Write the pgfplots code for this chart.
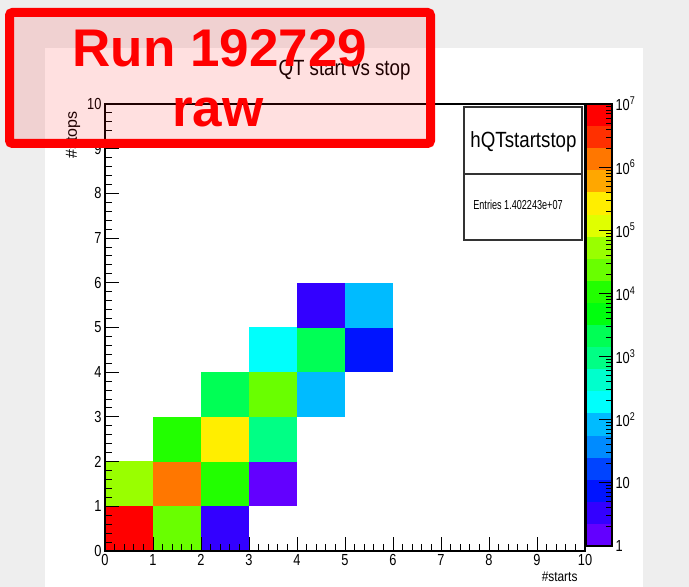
\documentclass[border=0pt]{standalone}
\usepackage{fontspec}
\setmainfont{Liberation Sans}
\newfontfamily\rootfont{Liberation Sans}[FakeStretch=0.8]
\newfontfamily\rootfontA{Liberation Sans}[FakeStretch=0.85]
\newfontfamily\rootfontB{Liberation Sans}[FakeStretch=0.7]
\usepackage{pgfplots}
\pgfplotsset{compat=1.18}
\usepackage{pgfplotstable}

% bin lower edges (x = #starts, y = #stops) and bin contents
\pgfplotstableread{
x y z
0 0 9600000
1 0 23700
2 0 3
0 1 53000
1 1 1330000
2 1 10600
3 1 1.5
1 2 10600
2 2 266000
3 2 940
2 3 2100
3 3 23700
4 3 84
3 4 190
4 4 2100
5 4 7.5
4 5 3
5 5 84
}\cells

\pgfdeclareplotmark{cell}{\pgfpathrectangle{\pgfpoint{-24.15pt}{-22.5pt}}{\pgfpoint{48.3pt}{45pt}}\pgfusepathqfill}
\pgfdeclareplotmark{band}{\pgfpathrectangle{\pgfpoint{-13pt}{-11.15pt}}{\pgfpoint{26pt}{22.3pt}}\pgfusepathqfill}

\pgfplotsset{colormap={root}{
rgb255=(99,0,255) rgb255=(51,0,255) rgb255=(0,20,255) rgb255=(0,68,255)
rgb255=(0,139,255) rgb255=(0,187,255) rgb255=(0,255,252) rgb255=(0,255,204)
rgb255=(0,255,133) rgb255=(0,255,85) rgb255=(0,255,14) rgb255=(34,255,0)
rgb255=(105,255,0) rgb255=(153,255,0) rgb255=(224,255,0) rgb255=(255,238,0)
rgb255=(255,167,0) rgb255=(255,119,0) rgb255=(255,48,0) rgb255=(255,0,0)}}

\definecolor{bggray}{RGB}{238,238,238}

\pgfplotsset{
  rootframe/.style={
    at={(105pt,36pt)}, anchor=south west,
    scale only axis, width=480pt, height=447pt,
    xmin=0, xmax=10, ymin=0, ymax=10},
  rootscale/.style={
    at={(586pt,41pt)}, anchor=south west,
    scale only axis, width=26pt, height=442pt,
    xmin=0, xmax=1, ymin=0, ymax=7},
  rootmap/.style={
    colormap name=root, colormap access=piecewise constant,
    point meta min=0, point meta max=7},
}

\begin{document}
\begin{tikzpicture}
\fill[bggray] (0pt,0pt) rectangle (689pt,587pt);
\fill[white] (45pt,0pt) rectangle (643pt,539pt);

% cells (colour = log10 of bin content)
\begin{axis}[rootframe, hide axis, rootmap]
\addplot[scatter, only marks, mark=cell,
  point meta={log10(\thisrow{z})},
  scatter/use mapped color={draw=none, fill=mapped color}]
  table[x expr=\thisrow{x}+0.5, y expr=\thisrow{y}+0.5] {\cells};
\end{axis}

% frame, ticks and tick labels drawn over the cells
\begin{axis}[
  rootframe,
  xtick={0,...,10}, ytick={0,...,10}, minor tick num=4,
  tick pos=left, tick align=inside,
  major tick length=14pt, minor tick length=7pt,
  tick style={black, line width=1pt},
  axis line style={line width=1.2pt},
  tick label style={font=\rootfont\fontsize{16}{18}\selectfont},
  /pgf/number format/assume math mode=true,
]
\end{axis}

% colour scale: 20 contour bands, each at its log10 level
\begin{axis}[rootscale, hide axis, rootmap]
\addplot[scatter, only marks, mark=band, point meta=y,
  scatter/use mapped color={draw=none, fill=mapped color}]
  coordinates {(0.5,0.175) (0.5,0.525) (0.5,0.875) (0.5,1.225) (0.5,1.575)
    (0.5,1.925) (0.5,2.275) (0.5,2.625) (0.5,2.975) (0.5,3.325)
    (0.5,3.675) (0.5,4.025) (0.5,4.375) (0.5,4.725) (0.5,5.075)
    (0.5,5.425) (0.5,5.775) (0.5,6.125) (0.5,6.475) (0.5,6.825)};
\end{axis}

% colour scale ticks and labels (same frame style as the main axis)
\begin{axis}[
  rootscale,
  xtick=\empty,
  ytick pos=right, yticklabel pos=right,
  ytick={0,...,7},
  yticklabels={1,10,10\textsuperscript{2},10\textsuperscript{3},10\textsuperscript{4},10\textsuperscript{5},10\textsuperscript{6},10\textsuperscript{7}},
  minor ytick={0.30103,0.47712,0.60206,0.69897,0.77815,0.8451,0.90309,0.95424,
    1.30103,1.47712,1.60206,1.69897,1.77815,1.8451,1.90309,1.95424,
    2.30103,2.47712,2.60206,2.69897,2.77815,2.8451,2.90309,2.95424,
    3.30103,3.47712,3.60206,3.69897,3.77815,3.8451,3.90309,3.95424,
    4.30103,4.47712,4.60206,4.69897,4.77815,4.8451,4.90309,4.95424,
    5.30103,5.47712,5.60206,5.69897,5.77815,5.8451,5.90309,5.95424,
    6.30103,6.47712,6.60206,6.69897,6.77815,6.8451,6.90309,6.95424},
  tick align=inside, major tick length=13pt, minor tick length=6pt,
  tick style={black, line width=1pt},
  axis line style={line width=1.2pt},
  yticklabel style={font=\rootfont\fontsize{16}{18}\selectfont},
]
\end{axis}

% title
\node[font=\rootfontA\fontsize{22}{26}\selectfont] at (344.5pt,517pt) {QT start vs stop};

% stats box
\draw[line width=1.2pt, fill=white, draw=black!80] (464pt,347pt) rectangle (582pt,480pt);
\draw[line width=1.2pt, draw=black!80] (464pt,413pt) -- (582pt,413pt);
\node[font=\rootfontA\fontsize{22}{26}\selectfont] at (523.5pt,445.5pt) {hQTstartstop};
\node[font=\rootfontB\fontsize{13}{15}\selectfont] at (518pt,382pt) {Entries 1.402243e+07};

% axis titles
\node[font=\rootfontA\fontsize{14}{16}\selectfont, anchor=east] at (581pt,10pt) {\#starts};
\node[font=\fontsize{16}{18}\selectfont, rotate=90, anchor=east] at (73pt,479pt) {\#stops};

% overlay
\draw[red, line width=9pt, rounded corners=3pt, fill=red, fill opacity=0.12] (9.5pt,443.5pt) rectangle (430.5pt,574.5pt);
\node[text=red, font=\bfseries\fontsize{53}{60}\selectfont] at (220pt,539pt) {Run 192729};
\node[text=red, font=\bfseries\fontsize{53}{60}\selectfont] at (218pt,475pt) {raw};

\pgfresetboundingbox
\path[use as bounding box] (0pt,0pt) rectangle (689pt,587pt);
\end{tikzpicture}
\end{document}
